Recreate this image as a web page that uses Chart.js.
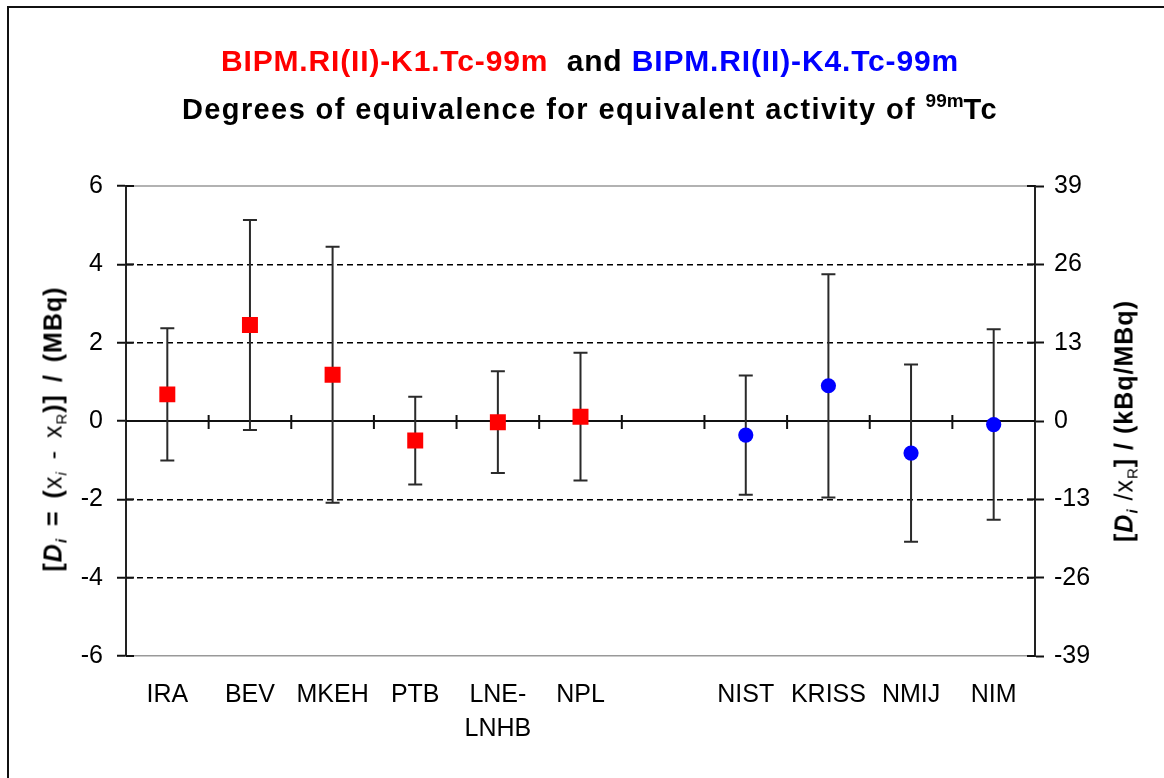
<!DOCTYPE html>
<html>
<head>
<meta charset="utf-8">
<script src="https://cdn.jsdelivr.net/npm/chart.js@4/dist/chart.umd.min.js"></script>
<style>
  body { margin: 0; background: #fff; font-family: 'Liberation Sans', Arial, sans-serif; }
  #wrap { position: relative; width: 1164px; height: 778px; overflow: hidden; }
  #frame { position: absolute; left: 7px; top: 6px; width: 1200px; height: 800px; border-left: 2px solid #111; border-top: 2px solid #111; }
  canvas { position: absolute; left: 0; top: 0; }
  .title { position: absolute; left: 8px; width: 1164px; text-align: center; font-weight: bold; white-space: nowrap; }
  #t1 { top: 44px; font-size: 30px; letter-spacing: 0.85px; }
  #t2 { top: 93px; font-size: 29px; letter-spacing: 1.4px; }
  #t2 sup { font-size: 19px; vertical-align: 12px; line-height: 0; letter-spacing: 0; }
  .ytitle { position: absolute; font-weight: bold; font-size: 25px; letter-spacing: 1px; white-space: nowrap; transform: translate(-50%, -50%) rotate(-90deg); }
  .ytitle sub { font-size: 15px; vertical-align: -5px; line-height: 0; }
  .plain { font-weight: normal; }
</style>
</head>
<body>
<div id="wrap">
  <div id="frame"></div>
  <canvas id="chart" width="1164" height="778"></canvas>
  <div class="title" id="t1"><span style="color:#ff0000">BIPM.RI(II)-K1.Tc-99m</span>&nbsp; and <span style="color:#0000ff">BIPM.RI(II)-K4.Tc-99m</span></div>
  <div class="title" id="t2">Degrees of equivalence for equivalent activity of <sup>99m</sup>Tc</div>
  <div class="ytitle" style="left:53px; top:429px; word-spacing:4px;">[<i>D<sub>i</sub></i> = (<span class="plain">x<sub><i>i</i></sub> - x<sub>R</sub></span>)] / (MBq)</div>
  <div class="ytitle" style="left:1124px; top:421px;">[<i>D<sub>i</sub></i> <span class="plain">/x<sub>R</sub></span>] / (kBq/MBq)</div>
</div>
<script>
// labs and degrees of equivalence (MBq)
const categories = ['IRA', 'BEV', 'MKEH', 'PTB', ['LNE-', 'LNHB'], 'NPL', '', 'NIST', 'KRISS', 'NMIJ', 'NIM'];
const k1Values = [0.68, 2.45, 1.18, -0.50, -0.03, 0.11, null, null, null, null, null];
const k1Errors = [1.69, 2.68, 3.27, 1.12, 1.30, 1.63, null, null, null, null, null];
const k4Values = [null, null, null, null, null, null, null, -0.36, 0.90, -0.82, -0.09];
const k4Errors = [null, null, null, null, null, null, null, 1.52, 2.85, 2.26, 2.43];
const leftTicks = [-6, 6, 2];     // min, max, step
const rightTicks = [-39, 39, 13]; // kBq/MBq

const dashedAt = [-4, -2, 2, 4];
const FONT = { family: "'Liberation Sans', Arial, sans-serif", size: 25 };

// zero line, cross ticks, top border line
const framePlugin = {
    id: 'framePlugin',
    beforeDatasetsDraw(chart) {
        const { ctx, chartArea: a, scales: { x, y, y2 } } = chart;
        ctx.save();
        ctx.strokeStyle = '#999'; ctx.lineWidth = 1.5;
        ctx.beginPath(); ctx.moveTo(a.left, a.top); ctx.lineTo(a.right, a.top); ctx.stroke();

        const y0 = y.getPixelForValue(0);
        ctx.strokeStyle = '#111'; ctx.lineWidth = 2;
        ctx.beginPath(); ctx.moveTo(a.left, y0); ctx.lineTo(a.right, y0); ctx.stroke();

        const half = (x.getPixelForValue(1) - x.getPixelForValue(0)) / 2;
        categories.forEach((c, i) => {
            if (i === categories.length - 1) return;
            const px = x.getPixelForValue(i) + half;
            ctx.beginPath(); ctx.moveTo(px, y0 - 6); ctx.lineTo(px, y0 + 8); ctx.stroke();
        });

        // inner half of the axis ticks
        y.ticks.forEach(t => {
            const py = y.getPixelForValue(t.value);
            ctx.beginPath(); ctx.moveTo(a.left, py); ctx.lineTo(a.left + 8, py); ctx.stroke();
        });
        y2.ticks.forEach(t => {
            const py = y2.getPixelForValue(t.value);
            ctx.beginPath(); ctx.moveTo(a.right - 8, py); ctx.lineTo(a.right, py); ctx.stroke();
        });
        ctx.restore();
    }
};

const errorBars = {
    id: 'errorBars',
    beforeDatasetsDraw(chart) {
        const { ctx, scales: { x, y } } = chart;
        ctx.save();
        ctx.strokeStyle = '#2a2a2a'; ctx.lineWidth = 2;
        [[k1Values, k1Errors], [k4Values, k4Errors]].forEach(([vals, errs]) => {
            vals.forEach((v, i) => {
                if (v === null) return;
                const px = x.getPixelForValue(i);
                const top = y.getPixelForValue(v + errs[i]);
                const bot = y.getPixelForValue(v - errs[i]);
                ctx.beginPath();
                ctx.moveTo(px, top); ctx.lineTo(px, bot);
                ctx.moveTo(px - 7, top); ctx.lineTo(px + 7, top);
                ctx.moveTo(px - 7, bot); ctx.lineTo(px + 7, bot);
                ctx.stroke();
            });
        });
        ctx.restore();
    }
};

new Chart(document.getElementById('chart'), {
    type: 'line',
    data: {
        labels: categories,
        datasets: [
            { label: 'BIPM.RI(II)-K1.Tc-99m', data: k1Values, showLine: false, pointStyle: 'rect', pointRadius: 11.3, pointBorderWidth: 0, backgroundColor: '#ff0000', borderColor: '#ff0000' },
            { label: 'BIPM.RI(II)-K4.Tc-99m', data: k4Values, showLine: false, pointStyle: 'circle', pointRadius: 7.6, pointBorderWidth: 0, backgroundColor: '#0000ff', borderColor: '#0000ff' }
        ]
    },
    options: {
        responsive: false, animation: false, events: [],
        layout: { padding: { top: 186, left: 0, right: 0, bottom: 0 } },
        plugins: { legend: { display: false }, tooltip: { enabled: false } },
        scales: {
            x: {
                offset: true,
                grid: { display: false, drawTicks: false },
                border: { display: true, color: '#999', width: 1.5 },
                ticks: { color: '#000', font: { ...FONT, lineHeight: 1.36 }, padding: 22, maxRotation: 0, autoSkip: false },
                afterFit: s => { s.height = 122; }
            },
            y: {
                position: 'left', min: leftTicks[0], max: leftTicks[1],
                grid: { color: c => dashedAt.includes(c.tick?.value) ? '#000' : 'rgba(0,0,0,0)', lineWidth: 1.5, tickColor: '#111', tickWidth: 2, tickLength: 9 },
                border: { display: true, color: '#222', width: 2, dash: [6, 4] },
                ticks: { stepSize: leftTicks[2], color: '#000', font: FONT, padding: 14 },
                afterFit: s => { s.width = 126; }
            },
            y2: {
                position: 'right', min: rightTicks[0], max: rightTicks[1],
                grid: { drawOnChartArea: false, tickColor: '#111', tickWidth: 2, tickLength: 9 },
                border: { display: true, color: '#222', width: 2 },
                ticks: { stepSize: rightTicks[2], color: '#000', font: FONT, padding: 10 },
                afterFit: s => { s.width = 129; }
            }
        }
    },
    plugins: [framePlugin, errorBars]
});
</script>
</body>
</html>
